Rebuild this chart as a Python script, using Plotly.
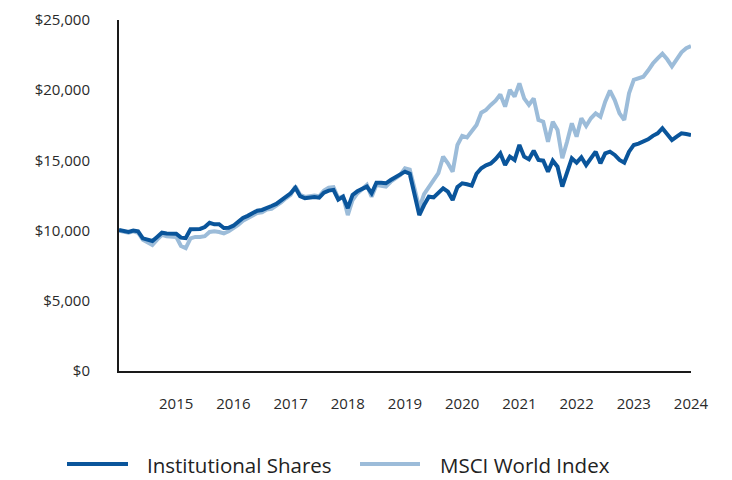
import plotly.graph_objects as go

months = list(range(121))

institutional = [
    10050, 9950, 9900, 10000, 9950, 9450, 9350, 9260, 9550, 9850, 9800, 9800,
    9780, 9500, 9470, 10100, 10100, 10120, 10250, 10560, 10450, 10450, 10180, 10200,
    10350, 10650, 10900, 11050, 11250, 11420, 11470, 11650, 11750, 11900, 12150, 12420,
    12650, 13050, 12450, 12300, 12350, 12400, 12350, 12700, 12850, 12900, 12200, 12420,
    11600, 12540, 12800, 12950, 13130, 12660, 13410, 13400, 13370, 13600, 13800, 13960,
    14200, 14050, 12700, 11110, 11820, 12415, 12370, 12650, 13010, 12770, 12180, 13100,
    13370, 13300, 13200, 14050, 14440, 14650, 14780, 15100, 15500, 14670, 15265, 15030,
    16100, 15265, 15080, 15690, 15030, 14980, 14200, 14980, 14550, 13130, 14080, 15150,
    14840, 15220, 14670, 15150, 15620, 14790, 15500, 15620, 15390, 15030, 14840, 15620,
    16100, 16200, 16330, 16500, 16750, 16930, 17290, 16810, 16450, 16700, 16930, 16880,
    16810,
]

msci_world = [
    10000, 9900, 9850, 9950, 9850, 9350, 9150, 8970, 9350, 9700, 9600, 9550,
    9550, 8900, 8750, 9450, 9550, 9550, 9600, 9900, 9950, 9900, 9800, 9950,
    10150, 10400, 10700, 10900, 11100, 11250, 11300, 11500, 11550, 11750, 12000, 12300,
    12550, 13150, 12550, 12400, 12450, 12500, 12450, 12850, 13050, 13100, 12300, 12450,
    11110, 12180, 12650, 12950, 13250, 12415, 13250, 13200, 13130, 13480, 13750, 13960,
    14440, 14350, 13000, 11600, 12600, 13150, 13600, 14100, 15265, 14790, 14200, 16100,
    16750, 16640, 17100, 17520, 18400, 18600, 18950, 19250, 19700, 18830, 20020, 19540,
    20490, 19420, 18950, 19420, 17880, 17760, 16330, 17760, 17170, 15150, 16330, 17640,
    16690, 18000, 17450, 18000, 18350, 18110, 19180, 19970, 19300, 18350, 17880, 19780,
    20730, 20850, 20960, 21400, 21900, 22270, 22600, 22200, 21700, 22200, 22700, 22990,
    23150,
]

tick_positions = [12, 24, 36, 48, 60, 72, 84, 96, 108, 120]
tick_labels = ["2015", "2016", "2017", "2018", "2019", "2020", "2021", "2022", "2023", "2024"]
y_ticks = [0, 5000, 10000, 15000, 20000, 25000]
y_labels = ["$0", "$5,000", "$10,000", "$15,000", "$20,000", "$25,000"]

series_names = ["Institutional Shares", "MSCI World Index"]
series_colors = ["#0a559b", "#9cbcd9"]

# page body has an 8px default margin; work in figure coordinates
OFF = 8
L, R, T, B = 119 - OFF, 691 - OFF, 20 - OFF, 371 - OFF
W, H = 732, 480


def px_x(px):
    return (px - OFF - L) / (R - L)


def px_y(py):
    return (B - (py - OFF)) / (B - T)


fig = go.Figure()
fig.add_trace(go.Scatter(
    x=months, y=msci_world, mode="lines", name=series_names[1],
    line=dict(color=series_colors[1], width=4),
))
fig.add_trace(go.Scatter(
    x=months, y=institutional, mode="lines", name=series_names[0],
    line=dict(color=series_colors[0], width=4),
))

# manual legend (screen pixel positions)
legend_items = [(67, 128, 145), (360, 420, 438)]
shapes = []
annotations = []
for (x0, x1, tx), name, color in zip(legend_items, series_names, series_colors):
    shapes.append(dict(
        type="line", xref="paper", yref="paper",
        x0=px_x(x0), x1=px_x(x1), y0=px_y(464), y1=px_y(464),
        line=dict(color=color, width=4),
    ))
    annotations.append(dict(
        xref="paper", yref="paper", x=px_x(tx), y=px_y(465),
        xanchor="left", yanchor="middle", showarrow=False,
        text=name, font=dict(size=20.5, color="#222222"),
    ))

fig.update_layout(
    width=W, height=H,
    margin=dict(l=L, r=W - R, t=T, b=H - B, autoexpand=False),
    paper_bgcolor="white", plot_bgcolor="white",
    font=dict(family="Open Sans, Noto Sans, sans-serif", color="#333333", size=15),
    showlegend=False,
    shapes=shapes,
    annotations=annotations,
    xaxis=dict(
        range=[0, 120], tickvals=tick_positions, ticktext=tick_labels,
        showgrid=False, zeroline=False, showline=True, linecolor="#1a1a1a", linewidth=2,
        ticks="", ticklabelstandoff=18, tickfont=dict(size=15, color="#2a2a2a"),
    ),
    yaxis=dict(
        range=[0, 25000], tickvals=y_ticks, ticktext=y_labels,
        showgrid=False, zeroline=False, showline=True, linecolor="#1a1a1a", linewidth=2,
        ticks="", ticklabelstandoff=24, tickfont=dict(size=15, color="#2a2a2a"),
    ),
)

fig.write_html("out.html")
